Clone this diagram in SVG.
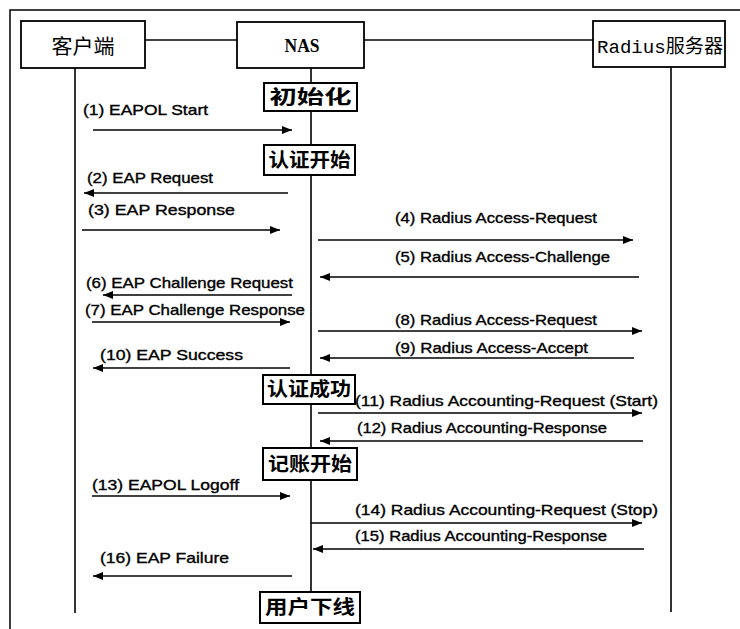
<svg xmlns="http://www.w3.org/2000/svg" width="740" height="629" viewBox="0 0 740 629">
<style>
.frame{fill:none;stroke:#000;stroke-width:1.5}
.box{fill:#fff;stroke:#000;stroke-width:1.8}
.sbox{fill:#fff;stroke:#000;stroke-width:2}
.life{stroke:#000;stroke-width:1.6;fill:none}
.msg{stroke:#000;stroke-width:1.6;fill:none;marker-end:url(#ah)}
.lbl{font-family:"Liberation Sans",Arial,sans-serif;font-size:14.5px;font-weight:normal;fill:#000;stroke:#000;stroke-width:0.35}
.stage{font-family:"Noto Sans CJK SC","Noto Sans CJK JP",sans-serif;font-size:19px;font-weight:bold;fill:#000}
.head{font-family:"Noto Sans CJK SC",sans-serif;font-size:20px;fill:#000}
.headm{font-family:"Liberation Mono","Noto Sans CJK SC",monospace;font-size:19px;fill:#000}
</style>
<defs>
<marker id="ah" markerWidth="10" markerHeight="8" refX="10" refY="4" orient="auto" markerUnits="userSpaceOnUse">
<path d="M0,0 L10,4 L0,8 z" fill="#000"/>
</marker>
</defs>
<rect width="740" height="629" fill="#fff"/>
<path class="frame" d="M10,629 V10 H740"/>

<g id="lifelines">
<line class="life" x1="145" y1="40" x2="237" y2="40"/>
<line class="life" x1="364" y1="40" x2="593" y2="40"/>
<line class="life" x1="75" y1="68" x2="75" y2="613"/>
<line class="life" x1="311" y1="68" x2="311" y2="592"/>
<line class="life" x1="671" y1="67" x2="671" y2="612"/>
</g>

<g id="client">
<rect class="box" x="21" y="21" width="124" height="47"/>
<text class="head" x="83" y="54" text-anchor="middle" textLength="63" lengthAdjust="spacingAndGlyphs">客户端</text>
</g>
<g id="nas">
<rect class="box" x="237" y="22" width="127" height="46"/>
<text x="302" y="52" text-anchor="middle" font-family="Liberation Serif,serif" font-size="18" font-weight="bold" textLength="35" lengthAdjust="spacingAndGlyphs">NAS</text>
</g>
<g id="radius">
<rect class="box" x="593" y="21" width="132" height="46"/>
<text class="headm" x="597" y="53" textLength="126" lengthAdjust="spacingAndGlyphs">Radius服务器</text>
</g>

<g id="connectors">
<line class="msg" x1="93" y1="130" x2="292" y2="130"/>
<line class="msg" x1="288" y1="193" x2="84" y2="193"/>
<line class="msg" x1="82" y1="230" x2="280" y2="230"/>
<line class="msg" x1="318" y1="240" x2="633" y2="240"/>
<line class="msg" x1="639" y1="277" x2="320" y2="277"/>
<line class="msg" x1="292" y1="295" x2="103" y2="295"/>
<line class="msg" x1="92" y1="322" x2="290" y2="322"/>
<line class="msg" x1="318" y1="331" x2="642" y2="331"/>
<line class="msg" x1="634" y1="358" x2="320" y2="358"/>
<line class="msg" x1="290" y1="368" x2="93" y2="368"/>
<line class="msg" x1="318" y1="413" x2="642" y2="413"/>
<line class="msg" x1="643" y1="441" x2="320" y2="441"/>
<line class="msg" x1="92" y1="496" x2="290" y2="496"/>
<line class="msg" x1="311" y1="523" x2="642" y2="523"/>
<line class="msg" x1="644" y1="549" x2="313" y2="549"/>
<line class="msg" x1="292" y1="576" x2="93" y2="576"/>
</g>

<g id="labels">
<text class="lbl" x="83" y="115" textLength="125" lengthAdjust="spacingAndGlyphs">(1) EAPOL Start</text>
<text class="lbl" x="87" y="183" textLength="126" lengthAdjust="spacingAndGlyphs">(2) EAP Request</text>
<text class="lbl" x="88" y="215" textLength="147" lengthAdjust="spacingAndGlyphs">(3) EAP  Response</text>
<text class="lbl" x="395" y="223" textLength="202" lengthAdjust="spacingAndGlyphs">(4) Radius Access-Request</text>
<text class="lbl" x="395" y="262" textLength="215" lengthAdjust="spacingAndGlyphs">(5) Radius Access-Challenge</text>
<text class="lbl" x="86" y="288" textLength="207" lengthAdjust="spacingAndGlyphs">(6) EAP  Challenge Request</text>
<text class="lbl" x="85" y="315" textLength="220" lengthAdjust="spacingAndGlyphs">(7) EAP  Challenge Response</text>
<text class="lbl" x="395" y="325" textLength="202" lengthAdjust="spacingAndGlyphs">(8) Radius Access-Request</text>
<text class="lbl" x="395" y="353" textLength="193" lengthAdjust="spacingAndGlyphs">(9) Radius Access-Accept</text>
<text class="lbl" x="100" y="360" textLength="143" lengthAdjust="spacingAndGlyphs">(10) EAP  Success</text>
<text class="lbl" x="355" y="406" textLength="303" lengthAdjust="spacingAndGlyphs">(11) Radius Accounting-Request  (Start)</text>
<text class="lbl" x="357" y="433" textLength="250" lengthAdjust="spacingAndGlyphs">(12) Radius Accounting-Response</text>
<text class="lbl" x="92" y="490" textLength="147" lengthAdjust="spacingAndGlyphs">(13) EAPOL Logoff</text>
<text class="lbl" x="355" y="515" textLength="303" lengthAdjust="spacingAndGlyphs">(14) Radius Accounting-Request  (Stop)</text>
<text class="lbl" x="355" y="541" textLength="252" lengthAdjust="spacingAndGlyphs">(15) Radius Accounting-Response</text>
<text class="lbl" x="100" y="563" textLength="129" lengthAdjust="spacingAndGlyphs">(16) EAP Failure</text>
</g>

<g id="stage-init">
<rect class="sbox" x="264" y="83" width="93" height="28"/>
<text class="stage" x="310.5" y="104" text-anchor="middle" textLength="82" lengthAdjust="spacingAndGlyphs">初始化</text>
</g>
<g id="stage-auth-start">
<rect class="sbox" x="264" y="145" width="91" height="30"/>
<text class="stage" x="309.5" y="167" text-anchor="middle" textLength="82" lengthAdjust="spacingAndGlyphs">认证开始</text>
</g>
<g id="stage-auth-ok">
<rect class="sbox" x="263" y="375" width="92" height="29"/>
<text class="stage" x="309" y="396" text-anchor="middle" textLength="84" lengthAdjust="spacingAndGlyphs">认证成功</text>
</g>
<g id="stage-acct-start">
<rect class="sbox" x="263" y="448" width="94" height="32"/>
<text class="stage" x="310" y="471" text-anchor="middle" textLength="84" lengthAdjust="spacingAndGlyphs">记账开始</text>
</g>
<g id="stage-offline">
<rect class="sbox" x="260" y="592" width="100" height="31"/>
<text class="stage" x="310" y="614" text-anchor="middle" textLength="90" lengthAdjust="spacingAndGlyphs">用户下线</text>
</g>
</svg>
